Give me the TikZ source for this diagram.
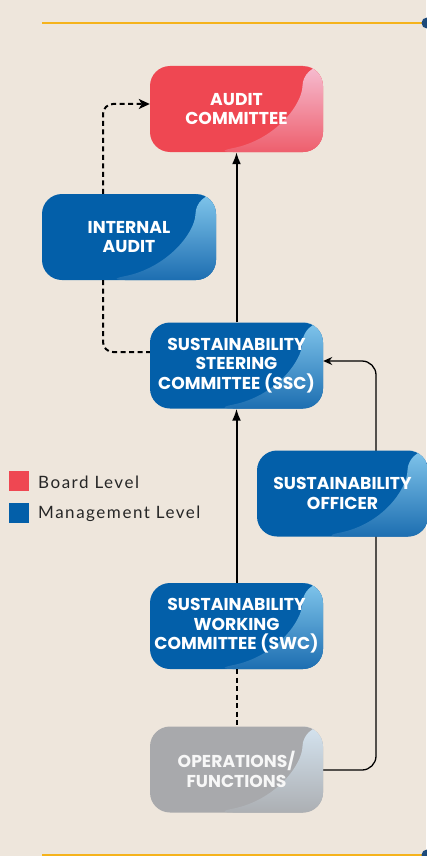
\documentclass[tikz,border=0pt]{standalone}
\usepackage{fontspec}
\setmainfont{Lato}[LetterSpace=9]
\newfontfamily\boxfont{Poppins}
\usetikzlibrary{arrows.meta,calc,backgrounds}
\definecolor{bg}{HTML}{EEE6DC}
\definecolor{redbox}{HTML}{EF4752}
\definecolor{bluebox}{HTML}{035FA9}
\definecolor{graybox}{HTML}{A8A9AC}
\definecolor{gold}{HTML}{F5B31C}
\definecolor{navy}{HTML}{1D4A7A}
\definecolor{redtop}{HTML}{F6BDD1}
\definecolor{redbot}{HTML}{EE5F6D}
\definecolor{bluetop}{HTML}{80C5EB}
\definecolor{bluebot}{HTML}{1D6EB1}
\definecolor{graytop}{HTML}{D4E3EF}
\definecolor{graybot}{HTML}{ACAFB3}
\tikzset{
  gloss/.style 2 args={path picture={
    \shade[top color=#1, bottom color=#2]
      ($(path picture bounding box.north east)+(-20pt,0pt)$)
      .. controls ($(path picture bounding box.north east)+(-21pt,-39pt)$)
      and ($(path picture bounding box.south west)+(125pt,12pt)$)
      .. ($(path picture bounding box.south west)+(63pt,0pt)$)
      -- (path picture bounding box.south east)
      -- (path picture bounding box.north east) -- cycle;
  }},
  box/.style={rounded corners=20pt, minimum width=173pt, minimum height=86pt,
    inner sep=0pt, text=white, align=center,
    font=\boxfont\bfseries\fontsize{17.2}{19.5}\selectfont},
  redstyle/.style={box, fill=redbox, gloss={redtop}{redbot}},
  bluestyle/.style={box, fill=bluebox, gloss={bluetop}{bluebot}},
  graystyle/.style={box, fill=graybox, gloss={graytop}{graybot}, text=white!94!gray},
  mainarrow/.style={line width=2pt, -{Latex[length=12pt,width=9pt]}},
  dashline/.style={line width=2pt, dash pattern=on 5pt off 3.5pt, rounded corners=10pt},
  thinline/.style={line width=1.3pt, rounded corners=14pt},
  legendsq/.style={minimum size=20pt, inner sep=0pt},
  legendtxt/.style={anchor=west, inner sep=0pt, font=\fontsize{17}{19}\selectfont, text=black!85}
}
\begin{document}
\begin{tikzpicture}[x=1pt,y=-1pt]
\useasboundingbox (0,0) rectangle (426,856);
% nodes
\node[redstyle] (ac) at (236.5,109) {AUDIT\\COMMITTEE};
\node[bluestyle, minimum width=174pt] (ia) at (129,237) {INTERNAL\\AUDIT};
\node[bluestyle] (ssc) at (236.5,365.5) {SUSTAINABILITY\\STEERING\\COMMITTEE (SSC)};
\node[bluestyle, minimum width=171pt] (so) at (342.5,493.5) {SUSTAINABILITY\\OFFICER};
\node[bluestyle] (swc) at (236.5,626) {SUSTAINABILITY\\WORKING\\COMMITTEE (SWC)};
\node[graystyle] (ops) at (236.5,769.5) {OPERATIONS/\\FUNCTIONS};
% legend
\node[legendsq, fill=redbox] (lr) at (19,481) {};
\node[legendsq, fill=bluebox] (lb) at (19,513) {};
\node[legendtxt] (lrt) at (38,482) {Board Level};
\node[legendtxt] (lbt) at (38,514) {Management Level};
% connectors
\coordinate (c1) at (103,104);
\coordinate (c2) at (103,352);
\coordinate (c3) at (376,770);
\coordinate (c4) at (376,361);
\begin{pgfonlayer}{background}
\fill[bg] (0,0) rectangle (426,856);
\draw[gold, line width=2.5pt] (42,23) -- (422,23);
\fill[navy] (427,23) circle (5.5);
\draw[gold, line width=2.5pt] (42,855) -- (422,855);
\fill[navy] (427,855) circle (5.5);
\draw[thinline, -{Stealth[length=9pt,width=8pt]}] (ops.east |- 0,770) -- (c3) -- (c4) -- (ssc.east |- c4);
\end{pgfonlayer}
\draw[mainarrow] (ssc.north) -- (ac.south);
\draw[mainarrow] (swc.north) -- (ssc.south);
\draw[line width=2pt, dash pattern=on 5pt off 3.5pt] (swc.south) -- (ops.north);
\draw[dashline, -{Stealth[length=11pt,width=10pt,inset=3pt]}] (ia.north -| c1) -- (c1) -- (ac.west |- c1);
\draw[dashline] (ia.south -| c2) -- (c2) -- (ssc.west |- c2);
\end{tikzpicture}
\end{document}
